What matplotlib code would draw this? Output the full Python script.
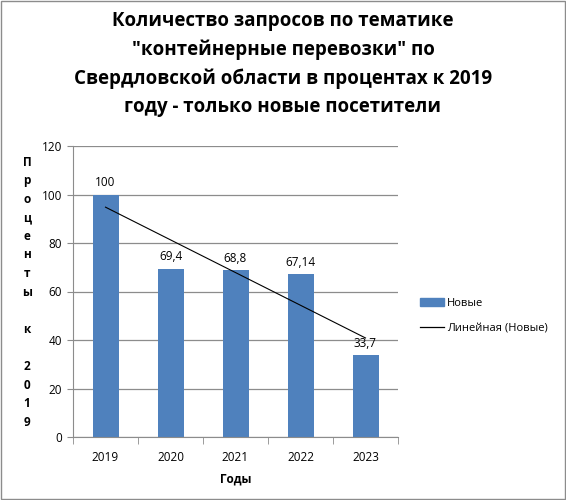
import numpy as np
import matplotlib.pyplot as plt
from matplotlib.patches import Rectangle
from matplotlib.lines import Line2D

plt.rcParams['font.family'] = ['Open Sans', 'DejaVu Sans']

years = ['2019', '2020', '2021', '2022', '2023']
values = [100, 69.4, 68.8, 67.14, 33.7]
value_labels = ['100', '69,4', '68,8', '67,14', '33,7']

title = ('Количество запросов по тематике\n"контейнерные перевозки" по\n'
         'Свердловской области в процентах к 2019\nгоду - только новые посетители')
ylabel = 'Проценты к 2019'

bar_color = '#4F81BD'
grid_color = '#8C8C8C'

fig = plt.figure(figsize=(5.66, 5.0), dpi=100)
ax = fig.add_axes([73 / 566, 63 / 500, 325 / 566, 291 / 500])

x = np.arange(len(years))
bars = ax.bar(x, values, width=0.4, color=bar_color, zorder=2)
ax.bar_label(bars, labels=value_labels, padding=4, fontsize=8.5)

# linear trend
k, b = np.polyfit(x, values, 1)
ax.plot(x, k * x + b, color='black', lw=0.8, zorder=3)

ax.set_xlim(-0.5, len(years) - 0.5)
ax.set_ylim(0, 120)
ax.set_yticks(range(0, 121, 20))
ax.set_xticks(x)
ax.set_xticklabels(years, fontsize=8.5)
ax.tick_params(axis='y', labelsize=8.5, length=4, color=grid_color, pad=4)
ax.tick_params(axis='x', which='major', length=0, pad=10)
ax.set_xticks(np.arange(-0.5, len(years), 1), minor=True)
ax.tick_params(axis='x', which='minor', length=5, color=grid_color)
ax.grid(axis='y', color=grid_color, lw=0.9, zorder=0)
for s in ['top', 'right']:
    ax.spines[s].set_visible(False)
for s in ['left', 'bottom']:
    ax.spines[s].set_color(grid_color)
ax.set_xlabel('Годы', fontsize=8.5, fontweight='bold', labelpad=6)

fig.text(0.5, 0.978, title, ha='center', va='top', fontsize=13.5,
         fontweight='bold', linespacing=1.55)

# stacked vertical axis label
chars = list('Проценты') + [''] + ['к'] + [''] + list('2019')
y0, step = 162, 18.6
for i, ch in enumerate(chars):
    if ch:
        fig.text(27 / 566, 1 - (y0 + i * step) / 500, ch, ha='center', va='center',
                 fontsize=8.5, fontweight='bold')

handles = [Rectangle((0, 0), 1, 1, color=bar_color),
           Line2D([], [], color='black', lw=0.9)]
fig.legend(handles, ['Новые', 'Линейная (Новые)'], loc='center left',
           bbox_to_anchor=(410 / 566, 1 - 316 / 500), frameon=False, fontsize=8,
           handlelength=2.2, handletextpad=0.2, labelspacing=1.3)

fig.patches.append(Rectangle((0.002, 0.002), 0.996, 0.996, transform=fig.transFigure,
                             fill=False, edgecolor='#8C8C8C', lw=1))

fig.savefig('out.png', dpi=100)
